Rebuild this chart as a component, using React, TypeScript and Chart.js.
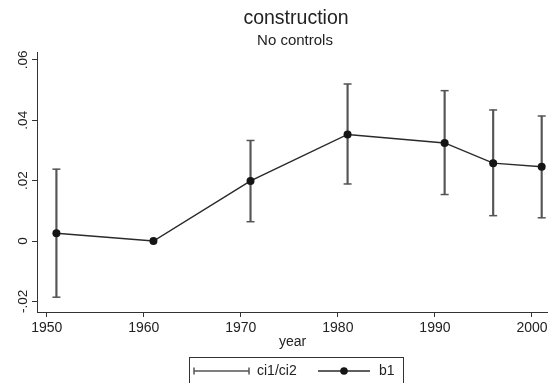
import React, { useEffect, useRef } from "react";
import { Chart, registerables } from "chart.js";

Chart.register(...registerables);

// ---- data ----
const years = [1951, 1961, 1971, 1981, 1991, 1996, 2001];
const b1 = [0.0026, 0, 0.0199, 0.0353, 0.0325, 0.0258, 0.0246];
const ci1: (number | null)[] = [0.0238, null, 0.0333, 0.052, 0.0498, 0.0434, 0.0414];
const ci2: (number | null)[] = [-0.0186, null, 0.0064, 0.0189, 0.0154, 0.0084, 0.0077];
const xTicks = [1950, 1960, 1970, 1980, 1990, 2000];
const yTicks = [-0.02, 0, 0.02, 0.04, 0.06];
const yTickLabels = ["-.02", "0", ".02", ".04", ".06"];
const titleText = "construction";
const subtitleText = "No controls";
const xTitle = "year";
const legendLabels = ["ci1/ci2", "b1"];

const FONT = '"Liberation Sans", Arial, sans-serif';
const TEXT = "#222";
const AXIS = "#333";
const CI_COLOR = "#555";
const LINE_COLOR = "#2a2a2a";
const MARKER = "#151515";

const decor = {
  id: "decor",
  afterDraw(chart: any) {
    const ctx = chart.ctx as CanvasRenderingContext2D;
    ctx.save();
    ctx.fillStyle = TEXT;
    ctx.textAlign = "center";
    ctx.textBaseline = "middle";
    ctx.font = `19.5px ${FONT}`;
    ctx.fillText(titleText, 296, 18.5);
    ctx.font = `15px ${FONT}`;
    ctx.fillText(subtitleText, 295, 41);

    // legend box
    ctx.strokeStyle = AXIS;
    ctx.lineWidth = 1;
    ctx.strokeRect(189.5, 357.5, 214, 40);

    const ly = 371;
    // ci symbol
    ctx.strokeStyle = CI_COLOR;
    ctx.lineWidth = 1.5;
    ctx.beginPath();
    ctx.moveTo(194, ly);
    ctx.lineTo(249, ly);
    ctx.moveTo(194, ly - 3.5);
    ctx.lineTo(194, ly + 3.5);
    ctx.moveTo(249, ly - 3.5);
    ctx.lineTo(249, ly + 3.5);
    ctx.stroke();
    ctx.fillStyle = TEXT;
    ctx.textAlign = "left";
    ctx.font = `14px ${FONT}`;
    ctx.fillText(legendLabels[0], 257, ly);

    // b1 symbol
    ctx.strokeStyle = LINE_COLOR;
    ctx.beginPath();
    ctx.moveTo(318, ly);
    ctx.lineTo(370, ly);
    ctx.stroke();
    ctx.fillStyle = MARKER;
    ctx.beginPath();
    ctx.arc(344, ly, 3.8, 0, Math.PI * 2);
    ctx.fill();
    ctx.fillStyle = TEXT;
    ctx.fillText(legendLabels[1], 379, ly);
    ctx.restore();
  },
};

export default function App() {
  const ref = useRef<HTMLCanvasElement | null>(null);

  useEffect(() => {
    if (!ref.current) return;
    const lineData = years.map((x, i) => ({ x, y: b1[i] }));
    const barData: any[] = [];
    const upper: any[] = [];
    const lower: any[] = [];
    years.forEach((x, i) => {
      const hi = ci1[i];
      const lo = ci2[i];
      if (hi != null && lo != null) {
        barData.push({ x, y: [lo, hi] });
        upper.push({ x, y: hi });
        lower.push({ x, y: lo });
      }
    });

    const tickFont = { family: FONT, size: 14, lineHeight: 1 };

    const chart = new Chart(ref.current, {
      type: "line",
      data: {
        datasets: [
          {
            type: "line",
            label: "b1",
            data: lineData,
            borderColor: LINE_COLOR,
            borderWidth: 1.5,
            pointRadius: 4,
            pointBackgroundColor: MARKER,
            pointBorderColor: MARKER,
            pointBorderWidth: 0,
            tension: 0,
            fill: false,
            clip: false,
            order: 0,
          } as any,
          {
            type: "bar",
            label: "ci",
            data: barData,
            backgroundColor: CI_COLOR,
            borderWidth: 0,
            barThickness: 1.5,
            order: 1,
          } as any,
          {
            type: "scatter",
            label: "ci1",
            data: upper,
            pointStyle: "line",
            pointRadius: 4,
            pointBorderColor: CI_COLOR,
            borderColor: CI_COLOR,
            pointBorderWidth: 1.5,
            showLine: false,
            clip: false,
            order: 1,
          } as any,
          {
            type: "scatter",
            label: "ci2",
            data: lower,
            pointStyle: "line",
            pointRadius: 4,
            pointBorderColor: CI_COLOR,
            borderColor: CI_COLOR,
            pointBorderWidth: 1.5,
            showLine: false,
            clip: false,
            order: 1,
          } as any,
        ],
      },
      options: {
        animation: false,
        responsive: false,
        devicePixelRatio: 1,
        events: [],
        layout: {
          autoPadding: false,
          padding: { top: 52, bottom: 34, left: 0, right: 0 },
        },
        plugins: {
          legend: { display: false },
          title: { display: false },
          tooltip: { enabled: false },
        },
        scales: {
          x: {
            type: "linear",
            min: 1949,
            max: 2001.65,
            offset: false,
            afterBuildTicks: (s: any) => {
              s.ticks = xTicks.map((v) => ({ value: v }));
            },
            afterFit: (s: any) => {
              s.height = 37;
              s.paddingLeft = 0;
              s.paddingRight = 0;
            },
            ticks: {
              callback: (v: any) => String(v),
              font: tickFont,
              color: TEXT,
              padding: 4,
              maxRotation: 0,
              autoSkip: false,
            },
            grid: {
              display: true,
              offset: false,
              drawOnChartArea: false,
              drawTicks: true,
              tickLength: 5,
              color: AXIS,
              lineWidth: 1,
            },
            border: { display: true, color: AXIS, width: 1 },
            title: {
              display: true,
              text: xTitle,
              font: { family: FONT, size: 14, lineHeight: 1 },
              color: TEXT,
              padding: 0,
            },
          },
          y: {
            type: "linear",
            min: -0.0235,
            max: 0.0626,
            afterBuildTicks: (s: any) => {
              s.ticks = yTicks.map((v) => ({ value: v }));
            },
            afterFit: (s: any) => {
              s.width = 37;
              s.paddingTop = 0;
              s.paddingBottom = 0;
            },
            ticks: {
              callback: (_v: any, i: number) => yTickLabels[i],
              font: { family: FONT, size: 13.5, lineHeight: 1 },
              color: TEXT,
              minRotation: 90,
              maxRotation: 90,
              crossAlign: "center",
              padding: -3,
              autoSkip: false,
            },
            grid: {
              display: true,
              drawOnChartArea: false,
              drawTicks: true,
              tickLength: 5,
              color: AXIS,
              lineWidth: 1,
            },
            border: { display: true, color: AXIS, width: 1 },
          },
        },
      } as any,
      plugins: [decor],
    });
    return () => chart.destroy();
  }, []);

  return (
    <div
      style={{
        position: "absolute",
        left: 0,
        top: 0,
        width: 548,
        height: 383,
        background: "#fff",
      }}
    >
      <canvas ref={ref} width={548} height={383} style={{ display: "block" }} />
    </div>
  );
}
